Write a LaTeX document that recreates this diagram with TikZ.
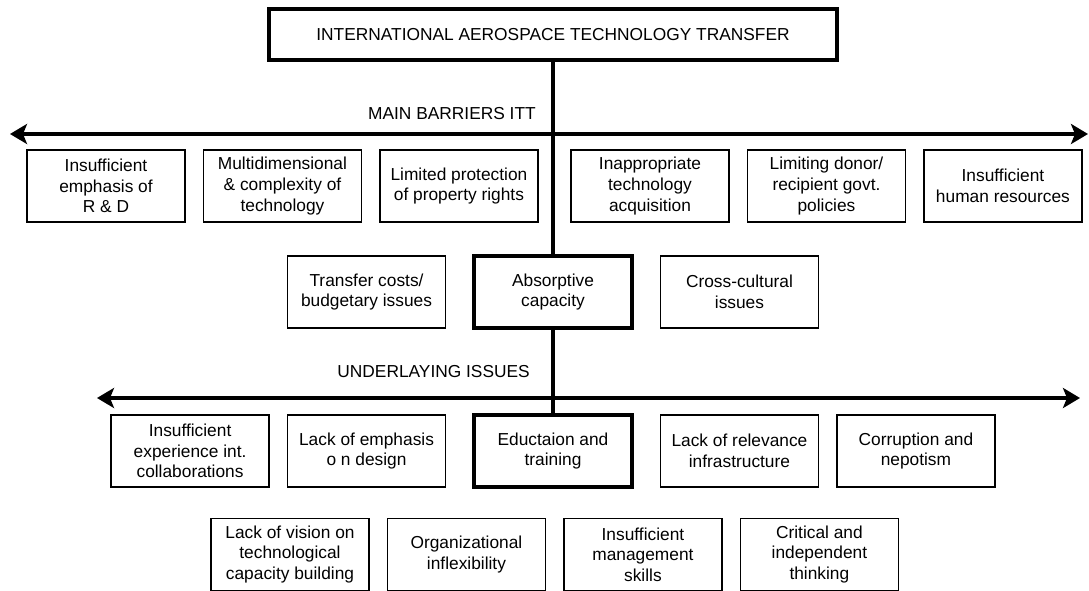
\documentclass[tikz,border=0pt]{standalone}
\usepackage{fontspec}
\setmainfont{Liberation Sans}
\usetikzlibrary{positioning,arrows.meta}
\tikzset{
  box/.style={
    draw,
    rectangle,
    line width=1.1pt,
    align=center,
    minimum width=118.5pt,
    minimum height=54pt,
    inner sep=2pt,
    font=\fontsize{13}{15.5}\selectfont
  },
  keybox/.style={box,line width=2.6pt},
  titlebox/.style={keybox,minimum width=426pt,minimum height=38.5pt,line width=3pt},
  barrier/.style={
    line width=3pt,
    {Stealth[length=12.75pt,width=15pt,inset=3pt]}-{Stealth[length=12.75pt,width=15pt,inset=3pt]}
  },
  stem/.style={line width=2.6pt},
  heading/.style={font=\fontsize{13}{15.5}\selectfont,inner sep=0pt}
}

\begin{document}
\begin{tikzpicture}[x=0.75pt,y=-0.75pt,node distance=12.75pt]
    \useasboundingbox (0,0) rectangle (1089,591);

    % top level
    \node [titlebox] (itt) at (553,34.5) {INTERNATIONAL AEROSPACE TECHNOLOGY TRANSFER};

    % main barriers
    \coordinate (mbl) at (10,134);
    \coordinate (mbr) at (1088,134);
    \node [heading,anchor=east] (mbtext) at (536,114) {MAIN BARRIERS ITT};

    \node [box] (b1) at (106,186) {Insufficient\\emphasis of\\R \& D};
    \node [box,right=of b1] (b2) {Multidimensional\\\& complexity of\\technology};
    \node [box,right=of b2] (b3) {Limited protection\\of property rights};
    \node [box] (b4) at (650,186) {Inappropriate\\technology\\acquisition};
    \node [box,right=of b4] (b5) {Limiting donor/\\recipient govt.\\policies};
    \node [box,right=of b5] (b6) {Insufficient\\human resources};

    \node [keybox] (absorb) at (553,292) {Absorptive\\capacity};
    \node [box,left=19.5pt of absorb] (costs) {Transfer costs/\\budgetary issues};
    \node [box,right=19.5pt of absorb] (culture) {Cross-cultural\\issues};

    % underlaying issues
    \coordinate (uil) at (97,398);
    \coordinate (uir) at (1080,398);
    \node [heading,anchor=east] (uitext) at (530,372) {UNDERLAYING ISSUES};

    \node [keybox] (educ) at (553,451) {Eductaion and\\training};
    \node [box,left=19.5pt of educ] (c2) {Lack of emphasis\\o n design};
    \node [box,left=of c2] (c1) {Insufficient\\experience int.\\collaborations};
    \node [box,right=19.5pt of educ] (c4) {Lack of relevance\\infrastructure};
    \node [box,right=of c4] (c5) {Corruption and\\nepotism};

    \node [box] (d1) at (290,554.5) {Lack of vision on\\technological\\capacity building};
    \node [box,right=of d1] (d2) {Organizational\\inflexibility};
    \node [box,right=of d2] (d3) {Insufficient\\management\\skills};
    \node [box,right=of d3] (d4) {Critical and\\independent\\thinking};

    % connectors
    \draw [stem] (itt.south) -- (absorb.north);
    \draw [stem] (absorb.south) -- (educ.north);
    \draw [barrier] (mbl) -- (mbr);
    \draw [barrier] (uil) -- (uir);

\end{tikzpicture}
\end{document}
